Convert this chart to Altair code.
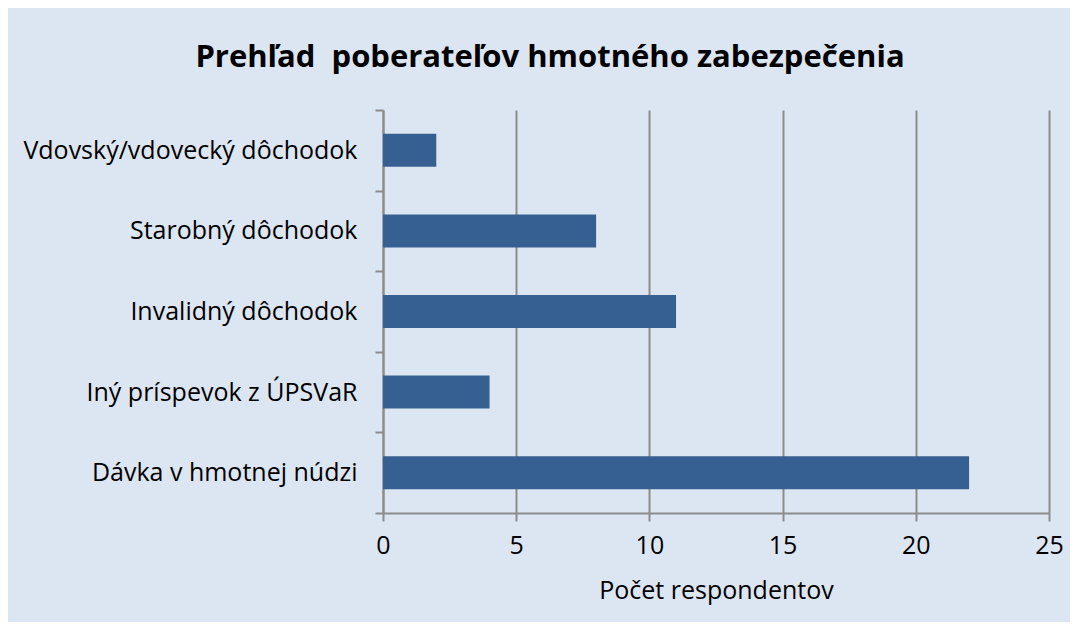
import altair as alt
import pandas as pd

categories = [
    "Vdovský/vdovecký dôchodok",
    "Starobný dôchodok",
    "Invalidný dôchodok",
    "Iný príspevok z ÚPSVaR",
    "Dávka v hmotnej núdzi\u00a0",
]
values = [2, 8, 11, 4, 22]
x_ticks = [0, 5, 10, 15, 20, 25]

df = pd.DataFrame({"kategoria": categories, "pocet": values})

GRAY = "#8c8c8c"
FONT = "Open Sans"

chart = (
    alt.Chart(df)
    .mark_bar(size=33, color="#376092")
    .encode(
        x=alt.X(
            "pocet:Q",
            scale=alt.Scale(domain=[0, 25], nice=False),
            axis=alt.Axis(
                values=x_ticks,
                title="Počet respondentov",
                grid=True,
                gridColor=GRAY,
                gridWidth=2,
                domainColor=GRAY,
                domainWidth=2,
                tickColor=GRAY,
                tickWidth=2,
                tickSize=8,
                labelFlush=False,
                labelFont=FONT,
                labelFontSize=25,
                labelColor="black",
                labelPadding=12,
                titleFont=FONT,
                titleFontSize=25,
                titleFontWeight="normal",
                titleColor="black",
                titlePadding=20,
            ),
        ),
        y=alt.Y(
            "kategoria:N",
            sort=categories,
            scale=alt.Scale(paddingInner=0, paddingOuter=0),
            axis=alt.Axis(
                title=None,
                grid=False,
                tickBand="extent",
                domainColor=GRAY,
                domainWidth=2,
                tickColor=GRAY,
                tickWidth=2,
                tickSize=8,
                labelFont=FONT,
                labelFontSize=25,
                labelColor="black",
                labelPadding=18,
                labelLimit=0,
            ),
        ),
    )
    .properties(
        width=666,
        height=403,
        title=alt.TitleParams(
            "Prehľad \u00a0poberateľov hmotného zabezpečenia",
            font=FONT,
            fontSize=31,
            fontWeight="bold",
            color="black",
            anchor="middle",
            baseline="alphabetic",
            offset=0,
            dx=-166,
        ),
        autosize=alt.AutoSizeParams(type="none"),
        padding={"left": 375, "top": 102, "right": 21, "bottom": 109},
        background="#dce6f2",
    )
    .configure_view(stroke=None)
)

chart.save("out.html", embed_options={"renderer": "svg", "actions": False})
